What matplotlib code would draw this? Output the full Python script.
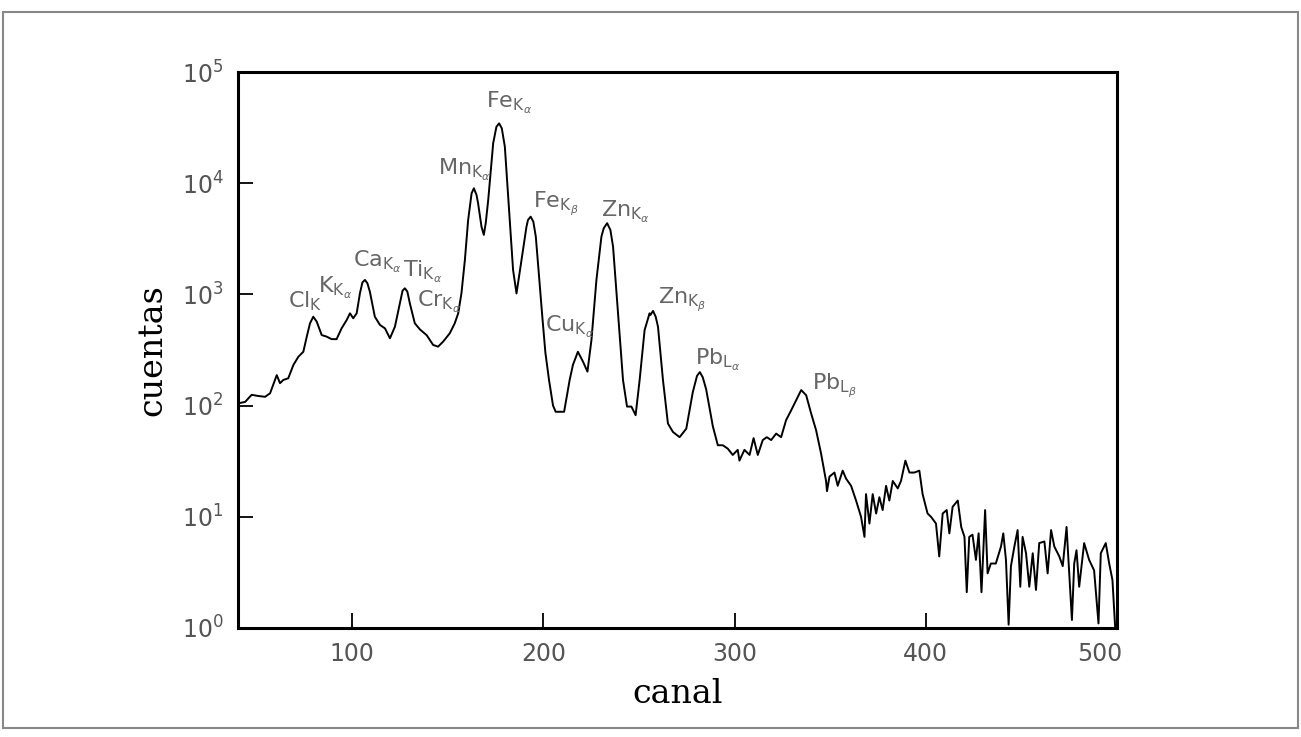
import matplotlib.pyplot as plt
import matplotlib.transforms as mtransforms
from matplotlib.patches import Rectangle

# espectro (canal, cuentas)
canal = [40.0, 40.6, 44, 46, 47.4, 50.9, 54.4, 57, 60.5, 62.2, 63.9, 66.5, 69.2, 71.8,
         74.4, 76.2, 77.9, 79.6, 81.4, 84, 86.6, 89.2, 91.8, 94.4, 97.1, 98.8, 100.5,
         102.3, 104, 105.3, 106.6, 107.9, 109.2, 111.8, 114.5, 117.1, 119.7, 122.3,
         124.9, 126.3, 127.5, 128.8, 130.1, 132.7, 135.4, 138.9, 142.3, 144.9, 147.5,
         151, 153.6, 155.4, 157.1, 158.9, 160.6, 162.4, 163.6, 165, 165.8, 167.6, 168.8,
         169.8, 171.1, 173.7, 175.4, 176.8, 178.2, 179.8, 182, 184.1, 185.9, 188.5,
         191.1, 191.9, 193.3, 194.7, 196, 198.4, 199.5, 201, 202.9, 205, 206.4,
         210.8, 213.7, 215.4, 218, 220.7, 223, 225.1, 227.7, 230.3, 231.5, 233.3, 235,
         236.4, 239, 241.6, 243.7, 246, 248.2, 250.3, 252.9, 255.5, 255.9, 257.3,
         258.7, 259.9, 262.5, 265.1, 267.7, 271.2, 274.7, 278.1, 280.3, 281.8, 283.3,
         285.1, 288.6, 291.2, 293.8, 296.4, 299,
         301.6, 302.5, 305.1, 307.8, 309.9, 312.1, 314.7, 316.8, 319.1, 321.7, 324.3,
         326.9, 329.6, 332.2, 334.8, 337.4, 340, 342.6, 345.2, 347.8, 348.3, 349.6,
         352.2, 353.9, 356.5, 358.3, 360.9, 363.5, 366.1, 367.9, 368.7, 370.5, 372.2,
         374, 375.7, 377.4, 379.2, 380.9, 382.7, 385.3, 387, 389.3, 391.4, 394, 396.6,
         398.3, 400.9, 402.7, 405.3, 407, 408.8, 410.9, 412.3, 414, 416.7, 418.5,
         420.2, 421.4, 422.7, 424.4, 426.2, 427.6, 429.1, 431, 432.3, 434, 436.6,
         439.3, 440.5, 441.9, 443.3, 444.5, 446.3, 448, 449.4, 450.6, 452.4, 454.1,
         455.9, 457.6, 459.3, 462, 463.7, 465.5, 467.2, 469.8, 471.6, 473.6, 475,
         476.4, 477.6, 478.8, 480.2, 482.8, 485.4, 488, 490.3, 491.5, 494.1, 495.9,
         497.6, 499, 500]
cuentas = [164, 105, 108, 118, 125, 122, 120, 129, 188, 159, 170, 176, 232, 275,
           305, 417, 550, 630, 569, 431, 417, 396, 396, 495, 589, 676, 610,
           676, 1023, 1280, 1350, 1260, 1058, 630, 531, 495, 403, 512,
           832, 1080, 1135, 1060, 832, 550, 484, 430, 351, 339, 376,
           447, 550, 676, 1023, 2040, 4660, 8100, 9000, 7830, 6600, 4050, 3430,
           4370, 7060, 22900, 32200, 34500, 31200, 21300, 5730, 1660, 1020, 2040,
           4050, 4670, 5000, 4510, 3300, 1020, 600, 300, 170, 100, 88,
           88, 170, 232, 305, 248, 202, 389, 1350, 3300, 3930, 4370, 3800,
           2690, 676, 170, 98, 98, 82, 170, 478, 676, 653, 710,
           630, 512, 170, 69, 58, 52, 62, 132, 185, 200, 180,
           140, 65, 44, 44, 41, 36,
           40, 32, 40, 36, 51, 36, 49, 52, 49, 56, 52,
           74, 91, 112, 138, 124, 85, 60, 37, 21, 17, 23,
           25, 19, 26, 22, 19, 14, 10, 6.6, 16, 8.7, 16,
           10.7, 15, 11.5, 19, 14, 21, 18, 21, 32, 25, 25, 26,
           16, 10.7, 10, 8.7, 4.4, 10.7, 11.5, 7.1, 12.3, 14, 8.1,
           6.6, 2.1, 6.6, 6.9, 4.1, 7.1, 2.1, 11.5, 3.1, 3.8, 3.8,
           5.4, 7.1, 4.1, 1.07, 3.6, 5.4, 7.6, 2.35, 6.6, 4.7, 2.35,
           4.7, 2.2, 5.8, 6.0, 3.1, 7.6, 5.4, 4.4, 3.6, 8.1, 3.1,
           1.18, 3.8, 5.0, 2.35, 5.8, 4.1, 3.3, 1.1, 4.7, 5.8, 3.8,
           2.7, 1.03, 1.0]

# etiquetas de los picos
etiquetas = [r'Cl$_{\mathrm{K}}$', r'K$_{\mathrm{K}_{\alpha}}$', r'Ca$_{\mathrm{K}_{\alpha}}$',
             r'Ti$_{\mathrm{K}_{\alpha}}$', r'Cr$_{\mathrm{K}_{\alpha}}$', r'Mn$_{\mathrm{K}_{\alpha}}$',
             r'Fe$_{\mathrm{K}_{\alpha}}$', r'Fe$_{\mathrm{K}_{\beta}}$', r'Cu$_{\mathrm{K}_{\alpha}}$',
             r'Zn$_{\mathrm{K}_{\alpha}}$', r'Zn$_{\mathrm{K}_{\beta}}$', r'Pb$_{\mathrm{L}_{\alpha}}$',
             r'Pb$_{\mathrm{L}_{\beta}}$']
etiq_x = [66.4, 82, 100.2, 126.5, 133.6, 144.8, 170.2, 194.4, 200.7, 230.3, 259.8, 279, 340.5]
etiq_y = [771, 1030, 1770, 1435, 771, 11860, 47450, 5980, 462, 4970, 830, 232, 138]

plt.rcParams['mathtext.fontset'] = 'dejavusans'

fig = plt.figure(figsize=(13.01, 7.37), dpi=100)
ax = fig.add_axes([0.1826, 0.1479, 0.6760, 0.7544])

ax.plot(canal, cuentas, color='black', lw=1.4, solid_joinstyle='round')
ax.set_yscale('log')
ax.set_xlim(40, 500)
ax.set_ylim(1, 1e5)
ax.set_xticks([100, 200, 300, 400, 500])
ax.set_yticks([1, 10, 100, 1000, 10000, 100000])
ax.minorticks_off()
ax.tick_params(direction='in', length=11, width=1.3, top=False, right=False,
               labelsize=17, labelcolor='#555555', pad=10)
for s in ax.spines.values():
    s.set_linewidth(2.2)

# el 500 esta corrido a la izquierda en el original
ult = ax.get_xticklabels()[-1]
ult.set_transform(ult.get_transform() + mtransforms.ScaledTranslation(-17 / 100, 0, fig.dpi_scale_trans))

for t, x, y in zip(etiquetas, etiq_x, etiq_y):
    ax.text(x, y, t, fontsize=16, color='#666666', ha='left', va='baseline')

ax.set_xlabel('canal', family='DejaVu Serif', fontsize=24, labelpad=9)
ax.set_ylabel('cuentas', family='DejaVu Serif', fontsize=24, labelpad=10)

# marco exterior
fig.patches.append(Rectangle((3 / 1301, 1 - 728 / 737), 1295 / 1301, 716 / 737,
                             transform=fig.transFigure, fill=False,
                             edgecolor='#888888', lw=1.5))

fig.savefig('out.png', dpi=100)
